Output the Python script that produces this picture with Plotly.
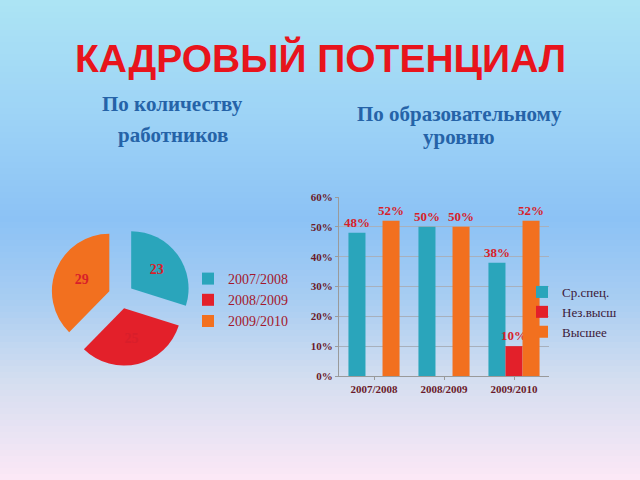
import plotly.graph_objects as go

# ---- data ----
pie_labels = ["2007/2008", "2008/2009", "2009/2010"]
pie_values = [23, 25, 29]

bar_categories = ["2007/2008", "2008/2009", "2009/2010"]
bar_series = ["Ср.спец.", "Нез.высш", "Высшее"]
sred_spec = [0.48, 0.50, 0.38]
nez_vyssh = [None, None, 0.10]
vysshee = [0.52, 0.50, 0.52]
y_ticks = [0, 0.1, 0.2, 0.3, 0.4, 0.5, 0.6]

TEAL = "#2aa5bb"
RED = "#e3202a"
ORANGE = "#f2701f"
LABEL_RED = "#d81e2a"
TICK_COL = "#6a1a2a"
SUB_BLUE = "#2563a8"

fig = go.Figure()

fig.add_trace(go.Pie(
    labels=pie_labels, values=pie_values, sort=False, direction="clockwise",
    rotation=0, pull=[0.22, 0.22, 0.22],
    marker=dict(colors=[TEAL, RED, ORANGE]),
    texttemplate="<b>%{value}</b>", textposition="inside", insidetextorientation="horizontal",
    textfont=dict(family="Liberation Serif", size=14, color=LABEL_RED),
    domain=dict(x=[48/640, 194/640], y=[1-366/480, 1-226/480]),
    legend="legend", showlegend=True, hoverinfo="label+value",
))

def bar_text(vals):
    return [("" if v is None else f"<b>{round(v*100)}%</b>") for v in vals]

for name, vals, col in [(bar_series[0], sred_spec, TEAL),
                        (bar_series[1], nez_vyssh, RED),
                        (bar_series[2], vysshee, ORANGE)]:
    fig.add_trace(go.Bar(
        name=name, x=bar_categories, y=vals, marker=dict(color=col, line=dict(width=0)),
        text=bar_text(vals), textposition="outside", cliponaxis=False,
        textfont=dict(family="Liberation Serif", size=13, color=LABEL_RED),
        legend="legend2",
    ))

# gradient background stripes
stops = [(0, (172, 228, 244)), (110, (158, 212, 246)), (220, (140, 194, 245)),
         (300, (168, 205, 242)), (380, (212, 222, 240)), (480, (252, 232, 246))]
def col_at(py):
    for (y0, c0), (y1, c1) in zip(stops[:-1], stops[1:]):
        if y0 <= py <= y1:
            t = (py - y0) / (y1 - y0)
            return "rgb(%d,%d,%d)" % tuple(round(a + (b - a) * t) for a, b in zip(c0, c1))
    return "rgb(%d,%d,%d)" % stops[-1][1]
shapes = []
n = 80
for i in range(n):
    y0 = i * 480 / n
    y1 = (i + 1) * 480 / n
    shapes.append(dict(type="rect", xref="paper", yref="paper", x0=-0.01, x1=1.01,
                       y0=1 - y1 / 480 - 0.001, y1=(1 - y0 / 480) + (0.02 if i == 0 else 0),
                       fillcolor=col_at((y0 + y1) / 2), line=dict(width=0), layer="below"))

def ann(text, px, py, size, color, family):
    return dict(text=text, x=px/640, y=1-py/480, xref="paper", yref="paper",
                xanchor="center", yanchor="middle", showarrow=False,
                font=dict(family=family, size=size, color=color))

annotations = [
    ann("<b>КАДРОВЫЙ ПОТЕНЦИАЛ</b>", 320, 58, 39, "#e8141c", "Liberation Sans"),
    ann("<b>По количеству</b>", 172, 104, 21, SUB_BLUE, "Liberation Serif"),
    ann("<b>работников</b>", 173, 135, 21, SUB_BLUE, "Liberation Serif"),
    ann("<b>По образовательному</b>", 459, 114, 21, SUB_BLUE, "Liberation Serif"),
    ann("<b>уровню</b>", 459, 137, 21, SUB_BLUE, "Liberation Serif"),
]

fig.update_layout(
    width=640, height=480, margin=dict(l=0, r=0, t=0, b=0, pad=0, autoexpand=False),
    paper_bgcolor="rgb(172,228,244)", plot_bgcolor="rgba(0,0,0,0)",
    shapes=shapes, annotations=annotations,
    barmode="group", bargap=0.27, bargroupgap=0, uniformtext=dict(mode=False),
    xaxis=dict(domain=[339/640, 549/640], showline=True, linecolor="#9a9a9a",
               ticks="outside", ticklen=3, tickcolor="#9a9a9a", showgrid=False,
               tickfont=dict(family="Liberation Serif", size=11, color=TICK_COL, weight="bold")),
    yaxis=dict(domain=[1-376/480, 1-197/480], range=[0, 0.6], tickvals=y_ticks,
               tickformat=".0%", showline=True, linecolor="#9a9a9a",
               gridcolor="#a8b0bc", gridwidth=1, zeroline=False,
               ticks="outside", ticklen=3, tickcolor="#9a9a9a",
               tickfont=dict(family="Liberation Serif", size=11, color=TICK_COL, weight="bold")),
    legend=dict(x=188/640, y=1-263/480, xanchor="left", yanchor="top",
                bgcolor="rgba(0,0,0,0)", tracegroupgap=0, itemwidth=30,
                font=dict(family="Liberation Serif", size=14, color="#a3182c")),
    legend2=dict(x=522/640, y=1-277/480, xanchor="left", yanchor="top",
                 bgcolor="rgba(0,0,0,0)", itemwidth=30,
                 font=dict(family="Liberation Serif", size=13, color="#3c1838")),
)
fig.update_traces(selector=dict(type="bar"), constraintext="none")

fig.write_html(
    "out.html", config={"displayModeBar": False},
    post_script=("document.body.style.margin='0px';"
                 "document.body.style.background='rgb(172,228,244)';"
                 "var d=document.getElementById('{plot_id}');"
                 "d.style.position='absolute';d.style.top='0px';d.style.left='0px';"))
